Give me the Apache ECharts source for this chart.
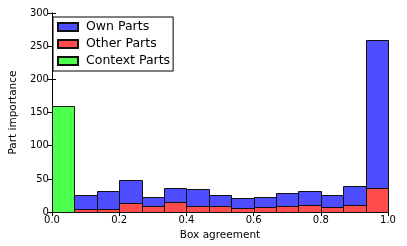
<!DOCTYPE html>
<html><head><meta charset="utf-8">
<script src="https://cdn.jsdelivr.net/npm/echarts@6/dist/echarts.min.js"></script>
<style>html,body{margin:0;padding:0;background:#fff}#c{width:407px;height:246px}</style>
</head><body><div id="c"></div>
<script>
const binCount = 15;
const ownParts = [0, 21, 27.5, 35, 14.5, 21, 26, 17.5, 16, 16.5, 20.5, 21, 19.5, 30, 224];
const otherParts = [0, 5, 5, 13, 8.5, 15, 8.5, 9, 5.5, 7, 8.5, 11, 7, 10, 36];
const contextParts = [160, 0, 0, 0, 0, 0, 0, 0, 0, 0, 0, 0, 0, 0, 0];
const xTicks = [0, 0.2, 0.4, 0.6, 0.8, 1.0];
const yTicks = [0, 50, 100, 150, 200, 250, 300];

const edges = Array.from({length: binCount + 1}, (_, i) => i / binCount);
const FONT = 'DejaVu Sans';

function stackData(vals, bases) {
  return vals.map((v, i) => [edges[i], edges[i + 1], bases[i], bases[i] + v]);
}
const otherData = stackData(otherParts, otherParts.map(() => 0));
const ownData = stackData(ownParts, otherParts);
const ctxBase = otherParts.map((v, i) => v + ownParts[i]);
const ctxData = stackData(contextParts, ctxBase);

function renderItem(params, api) {
  const x0 = api.value(0), x1 = api.value(1), b = api.value(2), t = api.value(3);
  if (t <= b) return null;
  const p0 = api.coord([x0, t]), p1 = api.coord([x1, b]);
  return {
    type: 'rect',
    shape: {x: Math.round(p0[0]) + 0.5, y: Math.round(p0[1]) + 0.5,
            width: Math.round(p1[0]) - Math.round(p0[0]), height: Math.round(p1[1]) - Math.round(p0[1])},
    style: {fill: api.visual('color'), stroke: '#111', lineWidth: 1}
  };
}
function series(name, color, data) {
  return {name, type: 'custom', renderItem, data, encode: {x: [0, 1], y: [2, 3]},
    itemStyle: {color, borderColor: '#111', borderWidth: 1}};
}
const axisCommon = {
  axisLine: {show: true, lineStyle: {color: '#000', width: 1}},
  axisTick: {show: true, inside: true, length: 4, lineStyle: {color: '#000'}},
  splitLine: {show: false}
};
const chart = echarts.init(document.getElementById('c'));
chart.setOption({
  animation: false,
  backgroundColor: '#fff',
  grid: {left: 48, right: 19, top: 13, bottom: 30},
  legend: {
    left: 53, top: 17, orient: 'vertical', selectedMode: false,
    data: ['Own Parts', 'Other Parts', 'Context Parts'],
    icon: 'rect', itemWidth: 20, itemHeight: 8, itemGap: 3,
    padding: [3, 3, 3, 4], borderColor: '#000', borderWidth: 1, backgroundColor: '#fff',
    textStyle: {fontFamily: FONT, fontSize: 12.5, color: '#000', lineHeight: 14, padding: [0, 0, 0, 3]}
  },
  xAxis: [
    Object.assign({type: 'value', min: 0, max: 1, interval: 0.2, position: 'bottom',
      name: 'Box agreement', nameLocation: 'middle', nameGap: 13,
      nameTextStyle: {fontFamily: FONT, fontSize: 10.5, color: '#000'},
      axisLabel: {fontFamily: FONT, fontSize: 10, color: '#000', margin: 3,
        formatter: v => v.toFixed(1), customValues: xTicks}}, axisCommon),
    Object.assign({type: 'value', min: 0, max: 1, interval: 0.2, position: 'top',
      axisLabel: {show: false}}, axisCommon)
  ],
  yAxis: [
    Object.assign({type: 'value', min: 0, max: 300, interval: 50, position: 'left',
      name: 'Part importance', nameLocation: 'middle', nameGap: 25,
      nameTextStyle: {fontFamily: FONT, fontSize: 10.5, color: '#000'},
      axisLabel: {fontFamily: FONT, fontSize: 10, color: '#000', margin: 3,
        customValues: yTicks}}, axisCommon),
    Object.assign({type: 'value', min: 0, max: 300, interval: 50, position: 'right',
      axisLabel: {show: false}}, axisCommon)
  ],
  series: [
    series('Other Parts', '#ff4d4d', otherData),
    series('Own Parts', '#4d4dff', ownData),
    series('Context Parts', '#4dff4d', ctxData)
  ]
});
</script></body></html>
